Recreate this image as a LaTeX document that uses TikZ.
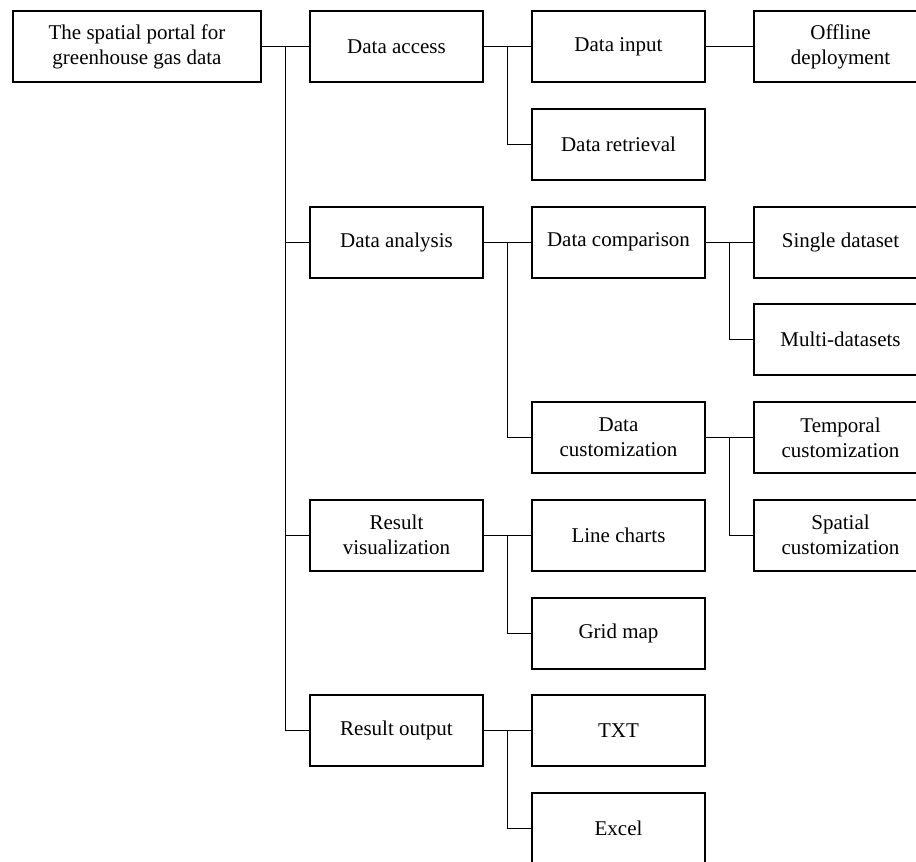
\documentclass[tikz,border=0pt]{standalone}
\usepackage{fontspec}
\setmainfont{Liberation Serif}
\usetikzlibrary{positioning, calc}
\tikzstyle{box} = [rectangle, draw, line width=1pt, minimum width=86.5pt, minimum height=35.5pt, inner sep=0pt, align=center, font=\fontsize{10.5pt}{12.5pt}\selectfont]
\tikzstyle{rootbox} = [box, minimum width=124pt]
\tikzstyle{link} = [line width=0.5pt]

\begin{document}
\begin{tikzpicture}[node distance=12.375pt and 23.5pt]
            \useasboundingbox (0,0) rectangle (458pt,-431pt);
            \node (root) [rootbox] at (68.5pt,-23.25pt) {The spatial portal for\\greenhouse gas data};
            \node (access)     [box, right=of root]       {Data access};
            \node (input)      [box, right=of access]     {Data input};
            \node (offline)    [box, right=of input]      {Offline\\deployment};
            \node (retrieval)  [box, below=of input]      {Data retrieval};
            \node (comparison) [box, below=of retrieval]  {Data comparison};
            \node (analysis)   [box, left=of comparison]  {Data analysis};
            \node (single)     [box, right=of comparison] {Single dataset};
            \node (multi)      [box, below=of single]     {Multi-datasets};
            \node (temporal)   [box, below=of multi]      {Temporal\\customization};
            \node (custom)     [box, left=of temporal]    {Data\\customization};
            \node (spatial)    [box, below=of temporal]   {Spatial\\customization};
            \node (charts)     [box, left=of spatial]     {Line charts};
            \node (visual)     [box, left=of charts]      {Result\\visualization};
            \node (grid)       [box, below=of charts]     {Grid map};
            \node (txt)        [box, below=of grid]       {TXT};
            \node (output)     [box, left=of txt]         {Result output};
            \node (excel)      [box, below=of txt]        {Excel};

            \coordinate (trunk)  at ($(root.east)!.5!(access.west)$);
            \coordinate (jaccess) at ($(access.east)!.5!(input.west)$);
            \coordinate (janalysis) at ($(analysis.east)!.5!(comparison.west)$);
            \coordinate (jcomp) at ($(comparison.east)!.5!(single.west)$);
            \coordinate (jcustom) at ($(custom.east)!.5!(temporal.west)$);
            \coordinate (jvisual) at ($(visual.east)!.5!(charts.west)$);
            \coordinate (joutput) at ($(output.east)!.5!(txt.west)$);

            \draw [link] (root) -- (access);
            \draw [link] (trunk) |- (analysis);
            \draw [link] (trunk) |- (visual);
            \draw [link] (trunk) |- (output);
            \draw [link] (access) -- (input);
            \draw [link] (jaccess) |- (retrieval);
            \draw [link] (input) -- (offline);
            \draw [link] (analysis) -- (comparison);
            \draw [link] (janalysis) |- (custom);
            \draw [link] (comparison) -- (single);
            \draw [link] (jcomp) |- (multi);
            \draw [link] (custom) -- (temporal);
            \draw [link] (jcustom) |- (spatial);
            \draw [link] (visual) -- (charts);
            \draw [link] (jvisual) |- (grid);
            \draw [link] (output) -- (txt);
            \draw [link] (joutput) |- (excel);
        \end{tikzpicture}
\end{document}
